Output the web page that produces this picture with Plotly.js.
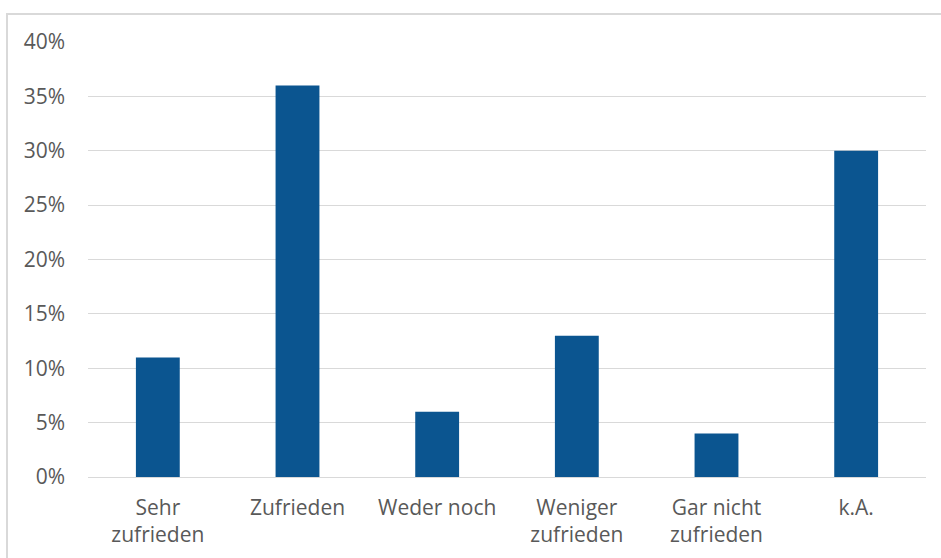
<!DOCTYPE html>
<html><head><meta charset="utf-8">
<script src="https://cdn.plot.ly/plotly-3.0.1.min.js"></script>
<style>
html,body{margin:0;padding:0;background:#fff;overflow:hidden;}
#frame{position:absolute;left:6px;top:13px;width:1000px;height:600px;border:2px solid #d9d9d9;box-sizing:border-box;}
#chart{position:absolute;left:0;top:0;width:941px;height:558px;}
</style></head>
<body>
<div id="frame"></div>
<div id="chart"></div>
<script>
const categories = ["Sehr<br>zufrieden", "Zufrieden", "Weder noch", "Weniger<br>zufrieden", "Gar nicht<br>zufrieden", "k.A."];
const values = [0.11, 0.36, 0.06, 0.13, 0.04, 0.30];
const yTicks = [0, 0.05, 0.10, 0.15, 0.20, 0.25, 0.30, 0.35, 0.40];

const trace = {
  type: 'bar', x: categories, y: values,
  marker: {color: '#0b5590'}, width: 0.314, hoverinfo: 'x+y'
};
const layout = {
  width: 941, height: 558,
  margin: {l: 88, r: 15, t: 42, b: 81},
  paper_bgcolor: 'rgba(0,0,0,0)', plot_bgcolor: 'rgba(0,0,0,0)',
  showlegend: false,
  font: {family: '"Open Sans", sans-serif', size: 21, color: '#595959'},
  xaxis: {showgrid: false, showline: false, ticks: '', ticklabelstandoff: 16, tickfont: {size: 21, color: '#595959'}},
  yaxis: {range: [0, 0.4], tickvals: yTicks, tickformat: '.0%', showgrid: true, gridcolor: '#d9d9d9', gridwidth: 1,
          zeroline: true, zerolinecolor: '#d9d9d9', zerolinewidth: 1, showline: false, ticks: '', ticklabelstandoff: 22,
          tickfont: {size: 21, color: '#595959'}}
};
Plotly.newPlot('chart', [trace], layout, {displayModeBar: false, staticPlot: true});
</script>
</body></html>
